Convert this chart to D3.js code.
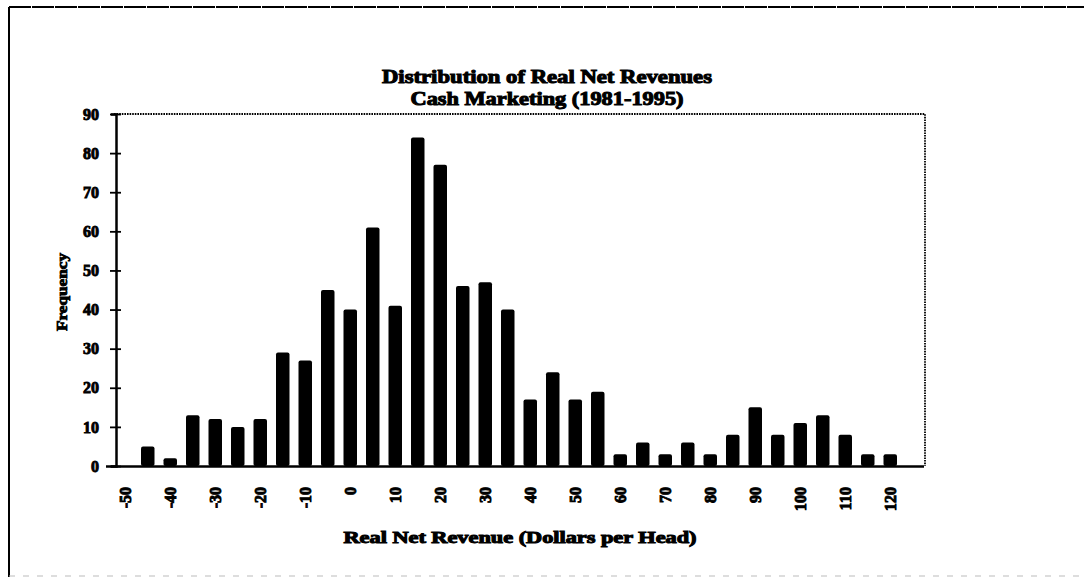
<!DOCTYPE html>
<html>
<head>
<meta charset="utf-8">
<script src="https://cdn.jsdelivr.net/npm/d3@7"></script>
<style>
  html, body { margin: 0; padding: 0; background: #fff; }
  svg { display: block; }
  text { font-family: "Liberation Serif", "Times New Roman", serif; font-weight: bold; fill: #000; }
</style>
</head>
<body>
<svg id="chart" width="1084" height="577"></svg>
<script>
// ---- data ----
const categories = [-50, -45, -40, -35, -30, -25, -20, -15, -10, -5, 0, 5, 10, 15, 20, 25, 30, 35,
                    40, 45, 50, 55, 60, 65, 70, 75, 80, 85, 90, 95, 100, 105, 110, 115, 120, 125];
const frequency = [0, 5, 2, 13, 12, 10, 12, 29, 27, 45, 40, 61, 41, 84, 77, 46, 47, 40,
                   17, 24, 17, 19, 3, 6, 3, 6, 3, 8, 15, 8, 11, 13, 8, 3, 3, 0];
const xTickLabels = [-50, -40, -30, -20, -10, 0, 10, 20, 30, 40, 50, 60, 70, 80, 90, 100, 110, 120];
const yTicks = [0, 10, 20, 30, 40, 50, 60, 70, 80, 90];
const titleLines = ["Distribution of Real Net Revenues", "Cash Marketing (1981-1995)"];
const xTitle = "Real Net Revenue (Dollars per Head)";
const yTitle = "Frequency";

// ---- layout ----
const svg = d3.select("#chart");
const plot = { left: 114, right: 924, top: 114, bottom: 466 };

const x = d3.scaleBand()
  .domain(categories)
  .range([plot.left, plot.right])
  .paddingInner(0.4)
  .paddingOuter(0.2);

const y = d3.scaleLinear().domain([0, 90]).range([plot.bottom, plot.top]);

// outer border
svg.append("line").attr("x1", 9).attr("x2", 9).attr("y1", 7).attr("y2", 577)
  .attr("stroke", "#000").attr("stroke-width", 2);
svg.append("line").attr("x1", 9).attr("x2", 1084).attr("y1", 7).attr("y2", 7)
  .attr("stroke", "#000").attr("stroke-width", 2).attr("stroke-dasharray", "22,1");
svg.append("line").attr("x1", 9).attr("x2", 1084).attr("y1", 576).attr("y2", 576)
  .attr("stroke", "#bbb").attr("stroke-width", 1).attr("stroke-dasharray", "6,8");

// plot frame (dotted top and right)
svg.append("path")
  .attr("d", `M${plot.left},${plot.top}H${plot.right + 1}V${plot.bottom}`)
  .attr("fill", "none").attr("stroke", "#000").attr("stroke-width", 1.8)
  .attr("stroke-dasharray", "1.6,1.0");

// bars
svg.append("g").selectAll("rect")
  .data(categories.map((c, i) => ({ c, v: frequency[i] })).filter(d => d.v > 0))
  .join("rect")
  .attr("x", d => x(d.c))
  .attr("width", x.bandwidth())
  .attr("y", d => y(d.v))
  .attr("height", d => y(0) - y(d.v))
  .attr("rx", 2)
  .attr("fill", "#000");

// y axis
const yAxis = svg.append("g")
  .attr("transform", `translate(${plot.left + 2},0)`)
  .call(d3.axisLeft(y).tickValues(yTicks).tickSize(5).tickPadding(12));
yAxis.select(".domain").attr("stroke-width", 2.5);
yAxis.selectAll(".tick line").attr("x2", 5).attr("x1", -6).attr("stroke-width", 1.8);
yAxis.selectAll("text")
  .attr("font-size", 16).style("font-size", "16px")
  .attr("stroke", "#000").attr("stroke-width", 0.9);

// x axis
const xAxis = svg.append("g")
  .attr("transform", `translate(0,${plot.bottom})`)
  .call(d3.axisBottom(x).tickValues(xTickLabels).tickSize(0).tickPadding(0));
xAxis.select(".domain").attr("d", `M${plot.left - 8},0.5H${plot.right}`).attr("stroke-width", 2.5);
xAxis.selectAll("text")
  .attr("font-size", 16).style("font-size", "16px")
  .attr("stroke", "#000").attr("stroke-width", 0.9)
  .attr("text-anchor", "end")
  .attr("dy", "0.35em")
  .attr("transform", "translate(0,21) rotate(-90)")
  .attr("x", 0).attr("y", 0);

// titles
svg.append("g").selectAll("text")
  .data(titleLines)
  .join("text")
  .attr("x", 547)
  .attr("y", (d, i) => 83 + i * 22)
  .attr("text-anchor", "middle")
  .style("font-size", "18px")
  .attr("stroke", "#000").attr("stroke-width", 1)
  .attr("textLength", (d, i) => i === 0 ? 330 : 273)
  .attr("lengthAdjust", "spacingAndGlyphs")
  .text(d => d);

svg.append("text")
  .attr("x", 520).attr("y", 543)
  .attr("text-anchor", "middle")
  .style("font-size", "16px")
  .attr("stroke", "#000").attr("stroke-width", 1)
  .attr("textLength", 353).attr("lengthAdjust", "spacingAndGlyphs")
  .text(xTitle);

svg.append("text")
  .attr("transform", `translate(67,292) rotate(-90)`)
  .attr("text-anchor", "middle")
  .style("font-size", "14px")
  .attr("stroke", "#000").attr("stroke-width", 0.8)
  .attr("textLength", 78).attr("lengthAdjust", "spacingAndGlyphs")
  .text(yTitle);
</script>
</body>
</html>
